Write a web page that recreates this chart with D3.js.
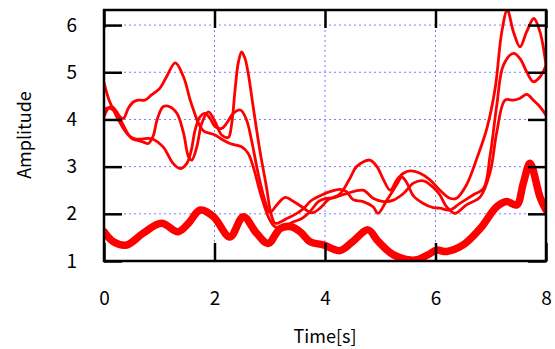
<!DOCTYPE html>
<html>
<head>
<meta charset="utf-8">
<script src="https://cdn.jsdelivr.net/npm/d3@7"></script>
<style>
  body { margin: 0; background: #fff; }
  text { font-family: "Noto Sans CJK JP", "Noto Sans", sans-serif; fill: #000; }
</style>
</head>
<body>
<svg id="chart" width="555" height="349"></svg>
<script>
// Data: [time (s), amplitude] pairs
const seriesA = [[0,4.78],[0.08,4.45],[0.17,4.20],[0.26,3.99],[0.35,3.81],[0.44,3.67],[0.53,3.60],[0.65,3.58],[0.77,3.60],[0.89,3.58],
  [1.07,3.42],[1.25,3.07],[1.38,2.96],[1.50,3.07],[1.58,3.35],[1.65,3.78],[1.74,4.06],[1.83,4.13],[1.92,4.02],[2.01,3.85],
  [2.13,3.81],[2.22,3.92],[2.34,4.13],[2.47,4.20],[2.58,3.99],[2.67,3.56],[2.80,2.80],[2.92,2.25],[3.00,2.03],[3.15,2.22],
  [3.28,2.35],[3.43,2.26],[3.58,2.15],[3.76,2.02],[3.91,2.12],[4.06,2.30],[4.27,2.42],[4.45,2.75],[4.57,3.00],[4.81,3.14],
  [4.94,3.00],[5.06,2.72],[5.18,2.50],[5.30,2.72],[5.42,2.86],[5.54,2.91],[5.72,2.86],[5.90,2.72],[6.08,2.50],[6.26,2.33],
  [6.38,2.33],[6.56,2.61],[6.75,3.18],[6.93,3.81],[7.08,4.66],[7.20,5.86],[7.30,6.32],[7.41,5.86],[7.53,5.54],[7.65,5.86],
  [7.78,6.14],[7.89,5.86],[8,5.15]];

const seriesB = [[0,4.06],[0.08,4.24],[0.14,4.27],[0.23,4.16],[0.32,3.95],[0.41,3.74],[0.50,3.60],[0.59,3.56],[0.71,3.52],[0.80,3.49],
  [0.89,3.65],[0.96,3.99],[1.07,4.27],[1.19,4.27],[1.32,4.13],[1.44,3.71],[1.53,3.21],[1.59,3.14],[1.68,3.42],[1.77,3.92],
  [1.89,4.16],[2.01,3.95],[2.13,3.67],[2.25,3.62],[2.31,3.90],[2.37,4.60],[2.43,5.20],[2.49,5.43],[2.55,5.30],[2.61,4.98],
  [2.70,4.27],[2.82,3.35],[2.94,2.57],[3.02,2.02],[3.10,1.80],[3.31,1.90],[3.49,2.01],[3.61,2.11],[3.73,2.26],[3.82,2.33],
  [3.94,2.40],[4.09,2.47],[4.27,2.52],[4.39,2.47],[4.51,2.30],[4.69,2.26],[4.87,2.15],[4.96,2.01],[5.12,2.29],[5.30,2.62],
  [5.39,2.78],[5.48,2.66],[5.60,2.38],[5.78,2.22],[5.96,2.13],[6.08,2.12],[6.26,2.08],[6.44,2.22],[6.68,2.40],[6.87,2.54],
  [6.99,3.25],[7.11,4.31],[7.23,5.15],[7.41,5.40],[7.53,5.29],[7.65,5.01],[7.77,4.80],[7.89,4.90],[8,5.15]];

const seriesC = [[0,4.16],[0.05,4.24],[0.17,4.20],[0.26,4.09],[0.35,4.02],[0.44,4.24],[0.53,4.37],[0.62,4.41],[0.74,4.41],[0.86,4.52],
  [1.01,4.66],[1.13,4.90],[1.29,5.20],[1.44,4.90],[1.56,4.41],[1.62,4.20],[1.71,3.92],[1.80,3.76],[2.01,3.67],[2.13,3.58],
  [2.28,3.49],[2.49,3.42],[2.61,3.28],[2.70,3.00],[2.85,2.36],[2.98,1.92],[3.08,1.74],[3.19,1.69],[3.43,1.83],[3.58,1.90],
  [3.73,2.05],[3.88,2.26],[4.00,2.32],[4.15,2.34],[4.39,2.43],[4.69,2.50],[4.87,2.33],[5.06,2.26],[5.24,2.29],[5.42,2.43],
  [5.60,2.65],[5.78,2.70],[5.96,2.56],[6.08,2.40],[6.20,2.15],[6.35,2.01],[6.56,2.19],[6.81,2.36],[6.99,2.89],[7.11,3.74],
  [7.26,4.41],[7.41,4.41],[7.53,4.45],[7.65,4.53],[7.77,4.41],[7.89,4.27],[8,4.09]];

// the heavy line along the bottom
const seriesD = [[0,1.62],[0.17,1.41],[0.41,1.34],[0.71,1.59],[1.04,1.80],[1.34,1.62],[1.53,1.80],[1.74,2.08],[1.98,1.94],[2.28,1.51],
  [2.52,1.94],[2.76,1.59],[2.97,1.37],[3.19,1.69],[3.37,1.73],[3.55,1.62],[3.73,1.41],[3.97,1.34],[4.27,1.22],[4.51,1.42],
  [4.78,1.66],[4.96,1.42],[5.24,1.13],[5.63,1.02],[5.86,1.13],[6.02,1.23],[6.20,1.20],[6.50,1.34],[6.81,1.69],[7.11,2.15],
  [7.29,2.26],[7.47,2.19],[7.59,2.65],[7.71,3.07],[7.89,2.36],[8,2.08]];

const xTicks = [0, 2, 4, 6, 8];
const yTicks = [1, 2, 3, 4, 5, 6];
const xLabel = "Time[s]";
const yLabel = "Amplitude";

const svg = d3.select("#chart");
const plotL = 104, plotR = 546, plotT = 10, plotB = 261;

const x = d3.scaleLinear().domain([0, 8]).range([plotL, plotR]);
const y = d3.scaleLinear().domain([1, 6.32]).range([plotB, plotT]);

svg.append("defs").append("clipPath").attr("id", "plotClip")
  .append("rect").attr("x", plotL).attr("y", plotT).attr("width", plotR - plotL).attr("height", plotB - plotT);

// dotted grid
const grid = svg.append("g").attr("stroke", "#7c7cff").attr("stroke-width", 1).attr("stroke-dasharray", "2,3");
grid.selectAll("line.gx").data(xTicks.slice(1, -1)).enter().append("line")
  .attr("x1", d => x(d)).attr("x2", d => x(d)).attr("y1", plotT).attr("y2", plotB);
grid.selectAll("line.gy").data(yTicks.slice(1)).enter().append("line")
  .attr("x1", plotL).attr("x2", plotR).attr("y1", d => y(d)).attr("y2", d => y(d));

// lines
const line = d3.line().x(d => x(d[0])).y(d => y(d[1])).curve(d3.curveCatmullRom.alpha(0.5));
const lines = svg.append("g").attr("clip-path", "url(#plotClip)").attr("fill", "none").attr("stroke", "#ff0000")
  .attr("stroke-linejoin", "round").attr("stroke-linecap", "round");
[seriesA, seriesB, seriesC].forEach(s => {
  lines.append("path").attr("d", line(s)).attr("stroke-width", 2.8);
});
lines.append("path").attr("d", line(seriesD)).attr("stroke-width", 7.5);

// axes: ticks pointing inwards on all four sides
const tickLen = 18;
const axisL = d3.axisLeft(y).tickValues(yTicks).tickSizeInner(-tickLen).tickSizeOuter(0).tickPadding(tickLen + 9).tickFormat(d3.format("d"));
const axisR = d3.axisRight(y).tickValues(yTicks).tickSizeInner(-tickLen).tickSizeOuter(0).tickFormat("");
const axisB = d3.axisBottom(x).tickValues(xTicks).tickSizeInner(-tickLen).tickSizeOuter(0).tickPadding(tickLen + 13).tickFormat(d3.format("d"));
const axisT = d3.axisTop(x).tickValues(xTicks).tickSizeInner(-tickLen).tickSizeOuter(0).tickFormat("");

const gL = svg.append("g").attr("transform", `translate(${plotL},0)`).call(axisL);
const gR = svg.append("g").attr("transform", `translate(${plotR},0)`).call(axisR);
const gB = svg.append("g").attr("transform", `translate(0,${plotB})`).call(axisB);
const gT = svg.append("g").attr("transform", `translate(0,${plotT})`).call(axisT);

[gL, gR, gB, gT].forEach(g => {
  g.select(".domain").remove();
  g.selectAll(".tick line").attr("stroke", "#000").attr("stroke-width", 2.5);
  g.selectAll(".tick text").style("font-size", "19px").attr("fill", "#000");
});

// frame
svg.append("rect").attr("x", plotL).attr("y", plotT).attr("width", plotR - plotL).attr("height", plotB - plotT)
  .attr("fill", "none").attr("stroke", "#000").attr("stroke-width", 2.5);

// axis titles
svg.append("text").attr("x", 325).attr("y", 343).attr("text-anchor", "middle")
  .style("font-size", "18px").text(xLabel);
svg.append("text").attr("transform", "translate(31,135) rotate(-90)").attr("text-anchor", "middle")
  .style("font-size", "18px").text(yLabel);
</script>
</body>
</html>
